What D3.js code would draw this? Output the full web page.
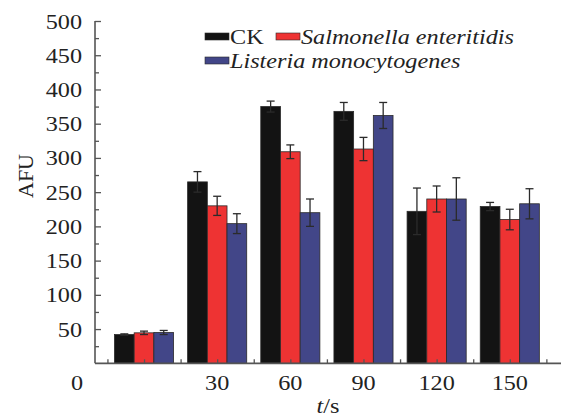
<!DOCTYPE html>
<html>
<head>
<meta charset="utf-8">
<script src="https://cdn.jsdelivr.net/npm/d3@7"></script>
<style>
  body { margin: 0; background: #fff; }
  text { font-family: "Liberation Serif", "Times New Roman", serif; fill: #222; font-size: 22px; }
</style>
</head>
<body>
<svg id="chart" width="561" height="417"></svg>
<script>
// time points (s)
const times = [0, 30, 60, 90, 120, 150];
const seriesNames = ['CK', 'Salmonella enteritidis', 'Listeria monocytogenes'];
const seriesColors = ['#131313', '#ee3333', '#424688'];

// AFU means and error values
const ckValues = [42, 265, 375, 368, 222, 229];
const ckErrors = [1, 15, 8, 13, 34, 6];
const salmonellaValues = [44.5, 230, 309, 313, 240, 210];
const salmonellaErrors = [2.5, 14, 10, 17, 19, 15];
const listeriaValues = [45, 204, 220, 362, 240, 233];
const listeriaErrors = [3, 14.5, 20, 19, 31, 22];

const yTicks = [50, 100, 150, 200, 250, 300, 350, 400, 450, 500];
const xTickLabels = [30, 60, 90, 120, 150];

const series = [
  { name: seriesNames[0], color: seriesColors[0], values: ckValues, errors: ckErrors },
  { name: seriesNames[1], color: seriesColors[1], values: salmonellaValues, errors: salmonellaErrors },
  { name: seriesNames[2], color: seriesColors[2], values: listeriaValues, errors: listeriaErrors },
];

const svg = d3.select('#chart');

const x = d3.scaleLinear().domain([-20.1, 171]).range([95, 561]);
const y = d3.scaleLinear().domain([0, 500]).range([363.3, 21]);
const barWidth = 19.7;
const axisColor = '#555';
const stretch = 1.1; // the source figure is a bit wider than tall

// text placed at (px, py), stretched horizontally like the source
function label(parent, px, py, anchor) {
  return parent.append('text')
    .attr('transform', `translate(${px},${py}) scale(${stretch},1)`)
    .attr('text-anchor', anchor);
}

// bars
series.forEach((s, si) => {
  const g = svg.append('g');
  g.selectAll('rect')
    .data(times)
    .join('rect')
    .attr('x', (t) => x(t) + (si - 1.5) * barWidth)
    .attr('y', (t, i) => y(s.values[i]))
    .attr('width', barWidth)
    .attr('height', (t, i) => y(0) - y(s.values[i]))
    .attr('fill', s.color)
    .attr('stroke', '#2a2a2a')
    .attr('stroke-width', 0.8);
});

// error bars
series.forEach((s, si) => {
  const g = svg.append('g')
    .attr('stroke', '#2b2b2b')
    .attr('stroke-width', 1.3);
  times.forEach((t, i) => {
    const cx = x(t) + (si - 1) * barWidth;
    const top = y(s.values[i] + s.errors[i]);
    const bottom = y(s.values[i] - s.errors[i]);
    g.append('line').attr('x1', cx).attr('x2', cx).attr('y1', top).attr('y2', bottom);
    g.append('line').attr('x1', cx - 4).attr('x2', cx + 4).attr('y1', top).attr('y2', top);
    g.append('line').attr('x1', cx - 4).attr('x2', cx + 4).attr('y1', bottom).attr('y2', bottom);
  });
});

// y axis
const yAxis = svg.append('g')
  .attr('transform', `translate(${x.range()[0]},0)`)
  .call(d3.axisRight(y).tickValues(yTicks).tickSize(6).tickFormat(''));
yAxis.select('.domain').remove();
yAxis.selectAll('line').attr('stroke', axisColor).attr('stroke-width', 1.3);
svg.append('g')
  .attr('transform', `translate(${x.range()[0]},0)`)
  .call(d3.axisRight(y).tickValues(d3.range(25, 500, 50)).tickSize(4).tickFormat(''))
  .call((g) => g.select('.domain').remove())
  .selectAll('line').attr('stroke', axisColor).attr('stroke-width', 1.3);

svg.append('line')
  .attr('x1', x.range()[0]).attr('x2', x.range()[0])
  .attr('y1', y(500)).attr('y2', y(0))
  .attr('stroke', axisColor).attr('stroke-width', 1.6);

const yLabels = svg.append('g');
yTicks.forEach((d) => {
  label(yLabels, 82, y(d) + 7.5, 'end').text(d);
});

label(svg, 83, 390, 'end').text('0');

svg.append('text')
  .attr('transform', 'translate(33,176) rotate(-90)')
  .attr('text-anchor', 'middle')
  .text('AFU');

// x axis
const xAxis = svg.append('g')
  .attr('transform', `translate(0,${y(0)})`)
  .call(d3.axisTop(x).tickValues(d3.range(-15, 171, 15)).tickSize(4).tickFormat(''));
xAxis.select('.domain').remove();
xAxis.selectAll('line').attr('stroke', axisColor).attr('stroke-width', 1.3);

svg.append('line')
  .attr('x1', x.range()[0]).attr('x2', x.range()[1])
  .attr('y1', y(0)).attr('y2', y(0))
  .attr('stroke', axisColor).attr('stroke-width', 1.8);

const xLabels = svg.append('g');
xTickLabels.forEach((d) => {
  label(xLabels, x(d), 390, 'middle').text(d);
});

const xTitle = label(svg, 328, 413, 'middle');
xTitle.append('tspan').style('font-style', 'italic').text('t');
xTitle.append('tspan').text('/s');

// legend
const legendItems = [
  { s: series[0], x: 205, y: 36, italic: false },
  { s: series[1], x: 276, y: 36, italic: true },
  { s: series[2], x: 205, y: 60, italic: true },
];
const legend = svg.append('g');
legendItems.forEach((d) => {
  legend.append('rect')
    .attr('x', d.x)
    .attr('y', d.y - 3)
    .attr('width', 24)
    .attr('height', 7)
    .attr('fill', d.s.color)
    .attr('stroke', '#2a2a2a')
    .attr('stroke-width', 0.6);
  label(legend, d.x + 25, d.y + 7.5, 'start')
    .style('font-style', d.italic ? 'italic' : 'normal')
    .text(d.s.name);
});
</script>
</body>
</html>
